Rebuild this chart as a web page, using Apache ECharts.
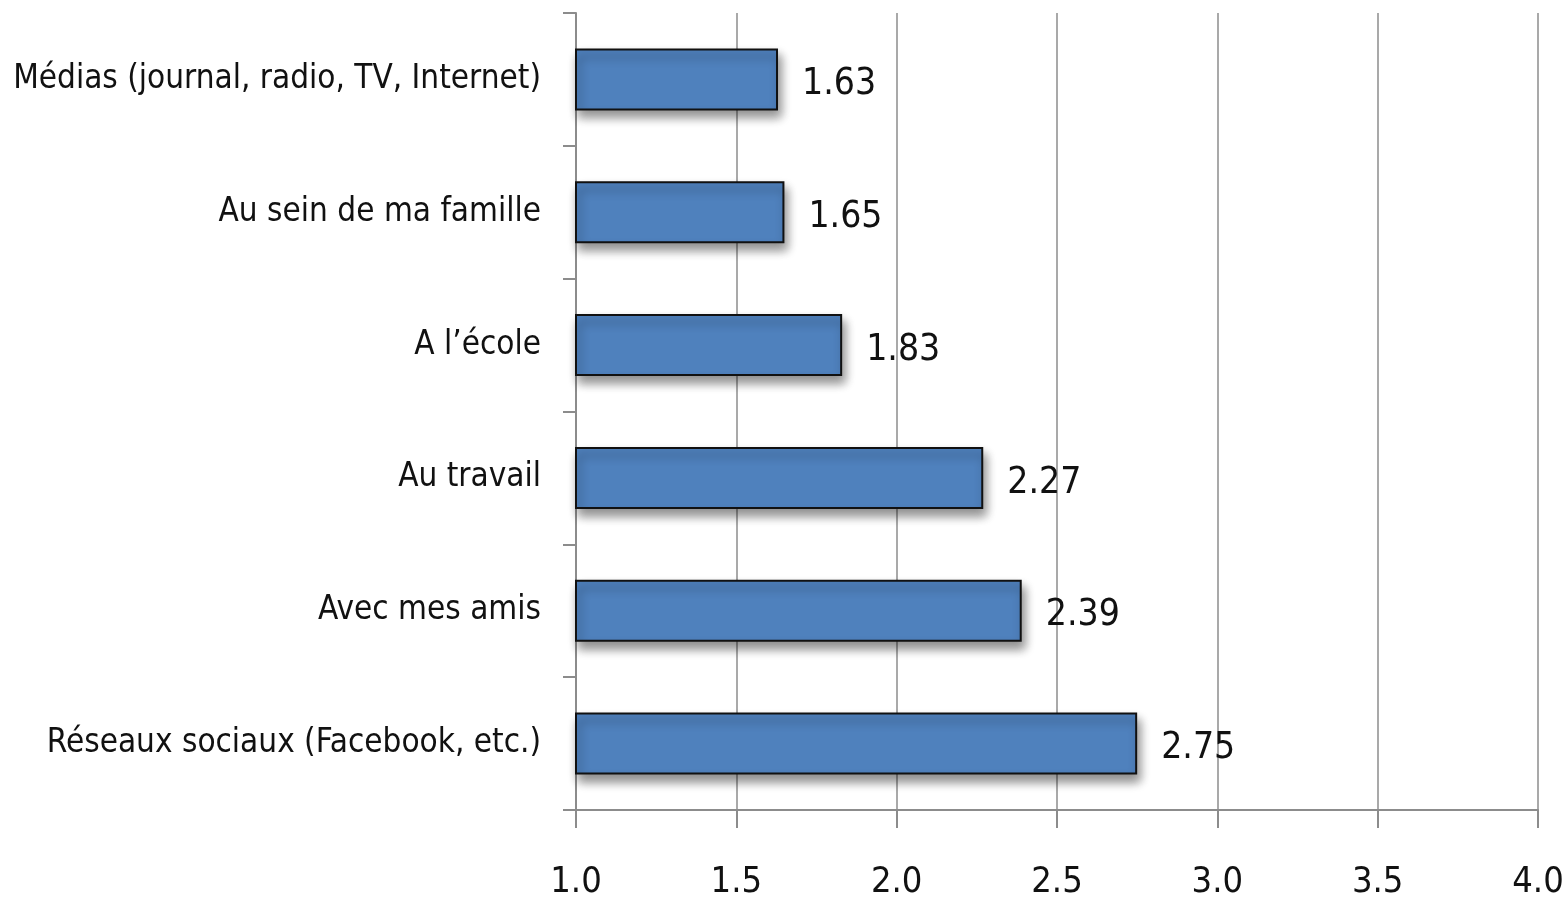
<!DOCTYPE html>
<html>
<head>
<meta charset="utf-8">
<script src="https://cdn.jsdelivr.net/npm/echarts@6/dist/echarts.min.js"></script>
<style>
  html, body { margin: 0; padding: 0; background: #fff; }
  #main { width: 1567px; height: 902px; }
</style>
</head>
<body>
<div id="main"></div>
<script>
var categories = [
    'Médias (journal, radio, TV, Internet)',
    'Au sein de ma famille',
    'A l\u2019école',
    'Au travail',
    'Avec mes amis',
    'Réseaux sociaux (Facebook, etc.)'
];
var values = [1.63, 1.65, 1.83, 2.27, 2.39, 2.75];
var axisMin = 1.0, axisMax = 4.0, axisStep = 0.5;

var font = '"DejaVu Sans Condensed", "Liberation Sans Narrow", sans-serif';

var myChart = echarts.init(document.getElementById('main'));

var option = {
    animation: false,
    grid: {
        left: 576,
        right: 29,
        top: 13,
        bottom: 92,
        containLabel: false,
        outerBoundsMode: 'none'
    },
    xAxis: {
        type: 'value',
        min: axisMin,
        max: axisMax,
        interval: axisStep,
        axisLine: { show: true, lineStyle: { color: '#8c8c8c', width: 2 } },
        axisTick: { show: true, length: 18, lineStyle: { color: '#8c8c8c', width: 2 } },
        splitLine: { show: true, lineStyle: { color: '#8c8c8c', width: 1.5 } },
        axisLabel: {
            margin: 55,
            fontFamily: font,
            fontSize: 36,
            color: '#111',
            formatter: function (v) { return v.toFixed(1); }
        }
    },
    yAxis: {
        type: 'category',
        inverse: true,
        data: categories,
        axisLine: { show: true, lineStyle: { color: '#8c8c8c', width: 2 } },
        axisTick: { show: true, length: 13, lineStyle: { color: '#8c8c8c', width: 2 } },
        axisLabel: {
            margin: 35,
            fontFamily: font,
            fontSize: 33,
            color: '#111'
        }
    },
    series: [
        {
            type: 'bar',
            data: values,
            barWidth: 62,
            itemStyle: {
                color: '#4f81bd',
                borderColor: '#111',
                borderWidth: 2,
                shadowColor: 'rgba(0,0,0,0.45)',
                shadowBlur: 10,
                shadowOffsetX: 3,
                shadowOffsetY: 7
            },
            label: {
                show: true,
                position: 'right',
                distance: 24,
                fontFamily: font,
                fontSize: 37,
                color: '#111',
                offset: [0, 5],
                formatter: function (p) { return p.value.toFixed(2); }
            }
        }
    ]
};

myChart.setOption(option);
</script>
</body>
</html>
